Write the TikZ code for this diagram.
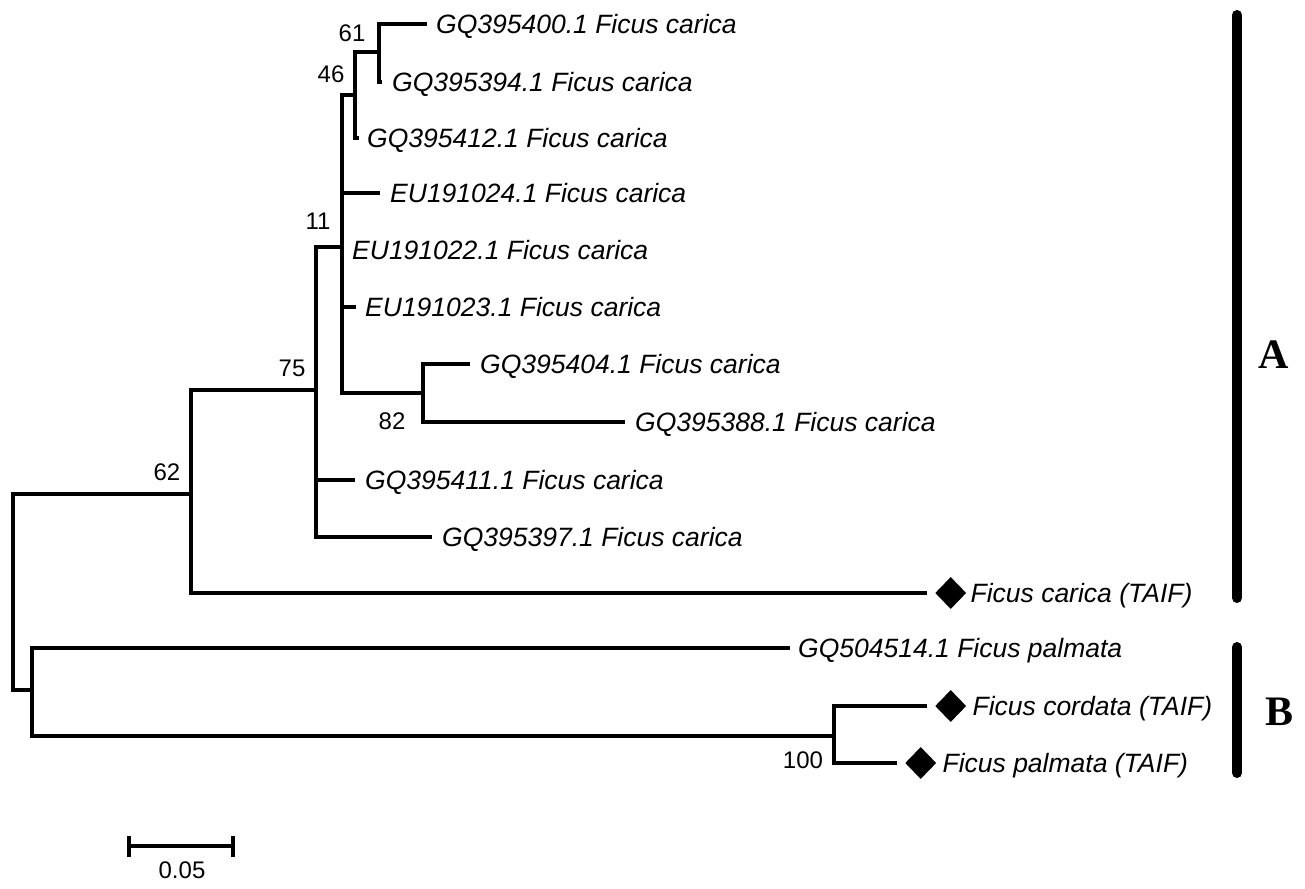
\documentclass[tikz,border=0pt]{standalone}
\usepackage{fontspec}
\setmainfont{Liberation Sans}
\newfontfamily\cladefont{Liberation Serif}
\usepackage{tikz}
\usetikzlibrary{shapes.geometric, arrows.meta, positioning}

\begin{document}
\begin{tikzpicture}[
  x=1pt, y=-1pt,
  branch/.style={line width=3.6pt},
  taxon/.style={inner sep=0pt, font=\fontsize{26.5}{30}\selectfont\itshape, text height=19pt, text depth=0pt},
  boot/.style={inner sep=0pt, font=\fontsize{24}{28}\selectfont, text height=17pt, text depth=0pt},
  tipmark/.style={diamond, fill=black, inner sep=0pt, minimum width=31pt, minimum height=32pt},
  clade/.style={line width=10pt, line cap=round},
  cladename/.style={inner sep=0pt, font=\fontsize{42}{46}\selectfont\cladefont\bfseries},
  scalebar/.style={line width=3.6pt, {Bar[width=21pt,line width=3.6pt]}-{Bar[width=21pt,line width=3.6pt]}}
]
\useasboundingbox[fill=white] (0,0) rectangle (1305,888);

% tips
\coordinate (t400) at (427,24);
\coordinate (t394) at (382,82);
\coordinate (t412) at (359,138);
\coordinate (t024) at (380,193);
\coordinate (t022) at (342,250);
\coordinate (t023) at (356,307);
\coordinate (t404) at (470,364);
\coordinate (t388) at (625,422);
\coordinate (t411) at (355,480);
\coordinate (t397) at (432,537);
\coordinate (tcar) at (927,593);
\coordinate (t514) at (790,648);
\coordinate (tcor) at (927,706);
\coordinate (tpal) at (897,763);

% inner nodes
\coordinate (n61) at (379,52);
\coordinate (n46) at (355,95);
\coordinate (n82) at (423,393);
\coordinate (n11) at (342,247);
\coordinate (n75) at (316,390);
\coordinate (n62) at (191,494);
\coordinate (n100) at (834,736);
\coordinate (nB) at (32,690);
\coordinate (root) at (13,600);

% branches
\draw[branch] (t400) -| (n61) |- (t394);
\draw[branch] (n61) -| (n46) |- (t412);
\draw[branch] (t404) -| (n82) |- (t388);
\draw[branch] (n46) -| (n11) |- (n82);
\draw[branch] (n11 |- t024) -- (t024);
\draw[branch] (n11 |- t023) -- (t023);
\draw[branch] (n11) -| (n75) |- (t397);
\draw[branch] (n75 |- t411) -- (t411);
\draw[branch] (n75) -| (n62) |- (tcar);
\draw[branch] (n62) -| (root) |- (nB);
\draw[branch] (t514) -| (nB) |- (n100);
\draw[branch] (tcor) -| (n100) |- (tpal);

% taxa
\node[taxon, right=9pt of t400] (l400) {GQ395400.1 Ficus carica};
\node[taxon, right=10pt of t394] (l394) {GQ395394.1 Ficus carica};
\node[taxon, right=8pt of t412] (l412) {GQ395412.1 Ficus carica};
\node[taxon, right=10pt of t024] (l024) {EU191024.1 Ficus carica};
\node[taxon, right=10pt of t022] (l022) {EU191022.1 Ficus carica};
\node[taxon, right=9pt of t023] (l023) {EU191023.1 Ficus carica};
\node[taxon, right=10pt of t404] (l404) {GQ395404.1 Ficus carica};
\node[taxon, right=10pt of t388] (l388) {GQ395388.1 Ficus carica};
\node[taxon, right=10pt of t411] (l411) {GQ395411.1 Ficus carica};
\node[taxon, right=10pt of t397] (l397) {GQ395397.1 Ficus carica};
\node[tipmark, right=8pt of tcar] (dcar) {};
\node[taxon, right=4pt of dcar] (lcar) {Ficus carica (TAIF)};
\node[taxon, right=8pt of t514] (l514) {GQ504514.1 Ficus palmata};
\node[tipmark, right=8pt of tcor] (dcor) {};
\node[taxon, right=6pt of dcor] (lcor) {Ficus cordata (TAIF)};
\node[tipmark, right=8pt of tpal] (dpal) {};
\node[taxon, right=6pt of dpal] (lpal) {Ficus palmata (TAIF)};

% bootstrap values
\node[boot] (b61) at (352,33) {61};
\node[boot] (b46) at (331,74) {46};
\node[boot] (b11) at (318,221) {11};
\node[boot] (b75) at (292,368) {75};
\node[boot] (b62) at (167,472) {62};
\node[boot] (b82) at (392,421) {82};
\node[boot] (b100) at (803,760) {100};

% clades
\coordinate (atop) at (1237,15);
\coordinate (abot) at (1237,598);
\draw[clade] (atop) -- (abot);
\node[cladename] (cA) at (1274,355) {A};
\coordinate (btop) at (1237,647);
\coordinate (bbot) at (1237,773);
\draw[clade] (btop) -- (bbot);
\node[cladename] (cB) at (1279,712) {B};

% scale
\coordinate (sL) at (127,846);
\coordinate (sR) at (235,846);
\draw[scalebar] (sL) -- (sR);
\node[boot] (slab) at (182,870) {0.05};
\end{tikzpicture}
\end{document}
